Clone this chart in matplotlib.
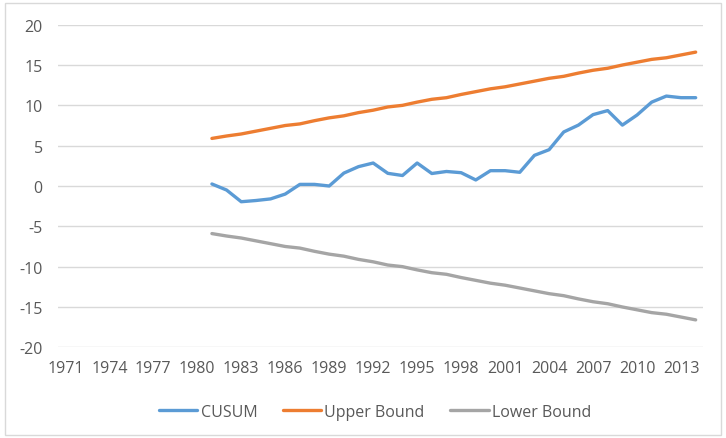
import matplotlib
matplotlib.use("Agg")
import matplotlib.pyplot as plt
from matplotlib.patches import Rectangle

years = list(range(1971, 2015))
data_years = list(range(1981, 2015))
cusum = [0.25, -0.5, -1.95, -1.8, -1.6, -1.0, 0.2, 0.2, 0.0, 1.6, 2.4, 2.85,
         1.57, 1.3, 2.85, 1.55, 1.8, 1.65, 0.75, 1.9, 1.9, 1.7, 3.8, 4.5,
         6.7, 7.55, 8.85, 9.35, 7.55, 8.8, 10.4, 11.15, 10.95, 10.95]
upper = [5.9, 6.2, 6.45, 6.8, 7.15, 7.5, 7.7, 8.1, 8.45, 8.7, 9.1, 9.4,
         9.8, 10.0, 10.4, 10.75, 10.95, 11.35, 11.7, 12.05, 12.3, 12.65, 13.0, 13.35,
         13.6, 14.0, 14.35, 14.6, 15.0, 15.35, 15.7, 15.9, 16.25, 16.6]
lower = [-5.9, -6.2, -6.45, -6.8, -7.15, -7.5, -7.7, -8.1, -8.45, -8.7, -9.1, -9.4,
         -9.8, -10.0, -10.4, -10.75, -10.95, -11.35, -11.7, -12.05, -12.3, -12.65, -13.0, -13.35,
         -13.6, -14.0, -14.35, -14.6, -15.0, -15.35, -15.7, -15.9, -16.25, -16.6]
yticks = [-20, -15, -10, -5, 0, 5, 10, 15, 20]

W, H = 726, 439
fig = plt.figure(figsize=(W / 100, H / 100), dpi=100)
plt.rcParams['font.family'] = ['Open Sans', 'DejaVu Sans']

ax = fig.add_axes([58 / W, 1 - 348.3 / H, (703 - 58) / W, (348.3 - 25.7) / H])
fig.patches.append(Rectangle((5 / W, 1 - 436 / H), (721 - 5) / W, (436 - 4) / H,
                             transform=fig.transFigure, fill=False,
                             edgecolor='#d9d9d9', linewidth=1))

idx = [years.index(y) for y in data_years]
ax.plot(idx, cusum, color='#5B9BD5', lw=2.4, label='CUSUM', solid_capstyle='round')
ax.plot(idx, upper, color='#ED7D31', lw=2.4, label='Upper Bound', solid_capstyle='round')
ax.plot(idx, lower, color='#A5A5A5', lw=2.4, label='Lower Bound', solid_capstyle='round')

ax.set_xlim(-0.5, len(years) - 0.5)
ax.set_ylim(-20, 20)
ax.set_yticks(yticks)
ax.set_yticklabels([str(v) for v in yticks])
tick_pos = list(range(0, len(years), 3))
ax.set_xticks(tick_pos)
ax.set_xticklabels([str(years[i]) for i in tick_pos])
ax.grid(axis='y', color='#d9d9d9', lw=1)
ax.set_axisbelow(True)
for s in ax.spines.values():
    s.set_visible(False)
ax.tick_params(axis='both', length=0, colors='#595959', labelsize=11.5)
ax.tick_params(axis='y', pad=11)
ax.tick_params(axis='x', pad=9)

leg = fig.legend(loc='center', bbox_to_anchor=(375 / W, 1 - 413 / H), ncol=3,
                 frameon=False, fontsize=11.5, handlelength=2.4, columnspacing=1.6,
                 handletextpad=0.2, labelcolor='#595959')

fig.savefig('out.png', dpi=100)
